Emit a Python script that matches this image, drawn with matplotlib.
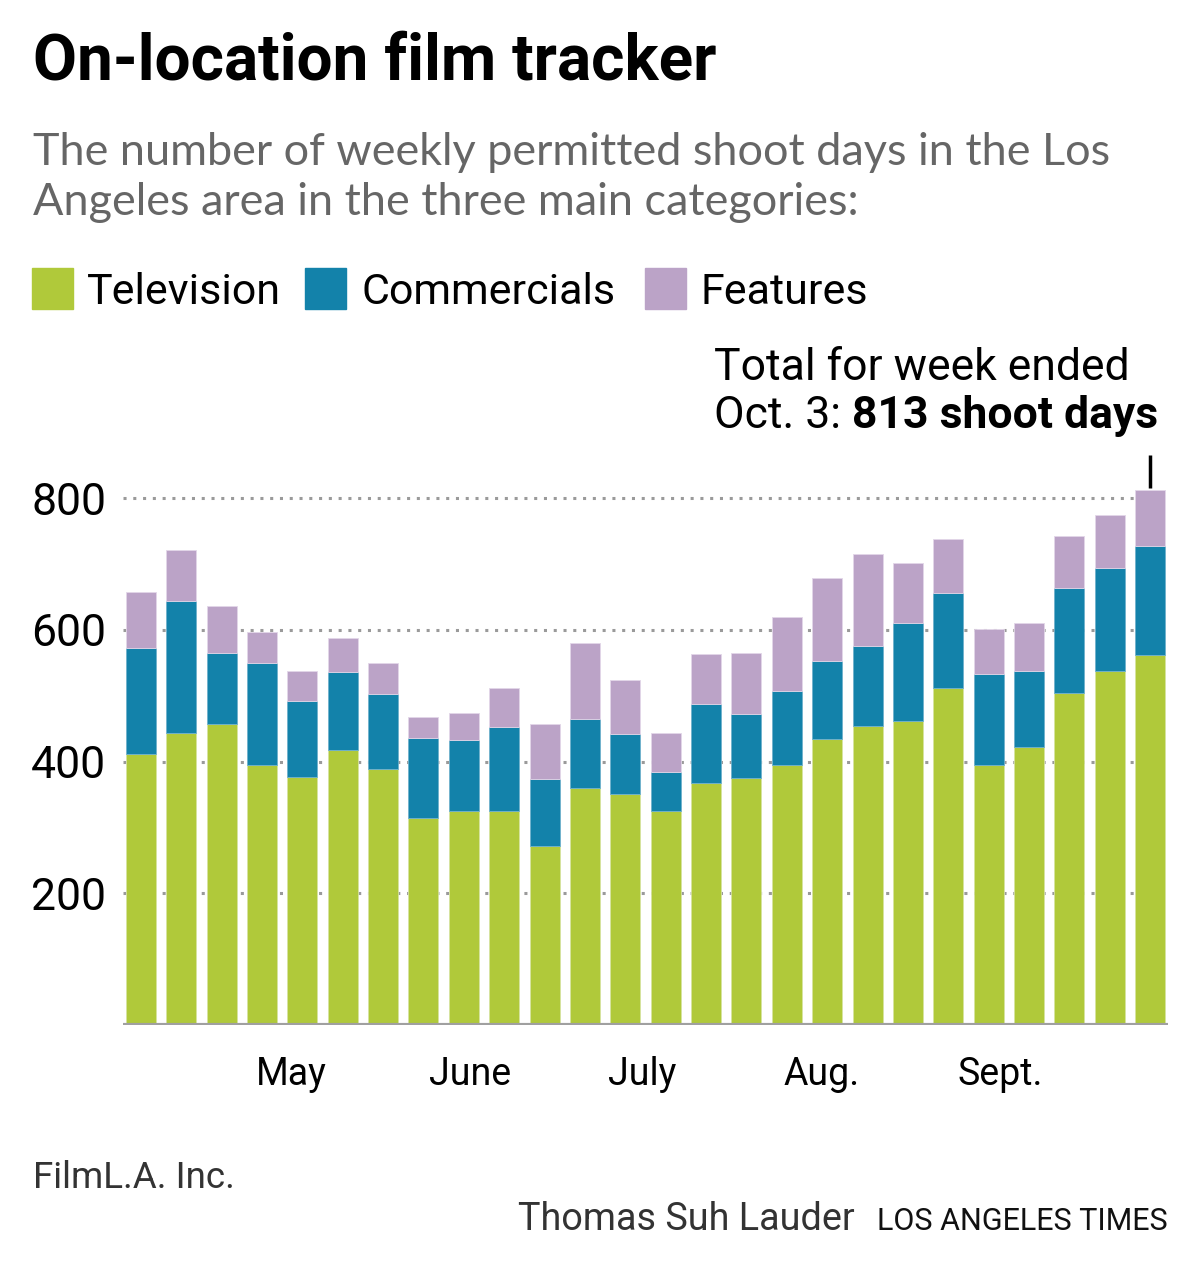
import numpy as np
import pandas as pd
import matplotlib
matplotlib.use('Agg')
import matplotlib.pyplot as plt

# Weekly permitted shoot days, week ended Apr. 11 through Oct. 3
week_ended = pd.date_range(end='2015-10-03', periods=26, freq='7D')
television = [411, 444, 457, 395, 377, 418, 389, 315, 325, 325, 272, 360, 351,
              325, 368, 375, 395, 434, 454, 461, 511, 395, 422, 504, 538, 561]
commercials = [161, 200, 108, 154, 115, 118, 113, 121, 108, 127, 101, 105, 91,
               59, 120, 97, 112, 118, 121, 149, 145, 138, 115, 160, 156, 167]
features = [85, 77, 71, 48, 45, 51, 47, 32, 41, 59, 84, 115, 82,
            59, 76, 93, 113, 127, 140, 92, 82, 68, 74, 79, 81, 85]
month_labels = ['May', 'June', 'July', 'Aug.', 'Sept.']
month_starts = pd.to_datetime(['2015-05-01', '2015-06-01', '2015-07-01',
                               '2015-08-01', '2015-09-01'])
y_ticks = [200, 400, 600, 800]

c_tv = '#b0c93a'
c_com = '#1382aa'
c_feat = '#bba3c7'

W, H = 1200, 1276
sans = ['Roboto', 'DejaVu Sans']
plt.rcParams['font.family'] = sans


def fx(px):
    return px / W


def fy(py):
    return 1 - py / H


fig = plt.figure(figsize=(W / 100, H / 100), dpi=100)
ax = fig.add_axes([fx(123), fy(1025), fx(1168) - fx(123), fy(450) - fy(1025)])

# bars drawn at the start of each week
x = week_ended - pd.Timedelta(days=6)
tv = np.array(television)
com = np.array(commercials)
feat = np.array(features)
width = 5.2
ax.bar(x, tv, width=width, color=c_tv, edgecolor='#d6e3a0', linewidth=0.6, zorder=3)
ax.bar(x, com, bottom=tv, width=width, color=c_com, edgecolor='#6fb1cc', linewidth=0.6, zorder=3)
ax.bar(x, feat, bottom=tv + com, width=width, color=c_feat, edgecolor='#e2d6e8', linewidth=0.6, zorder=3)

ax.set_xlim(x[0] - pd.Timedelta(days=3.1), x[-1] + pd.Timedelta(days=3.1))
ax.set_ylim(0, 873)

for v in y_ticks:
    ax.axhline(v, color='#9a9a9a', linestyle=(0, (1, 2.2)), linewidth=2.2, zorder=1)
ax.axhline(0, color='#a0a0a0', linewidth=3, zorder=4)

for s in ax.spines.values():
    s.set_visible(False)
ax.set_yticks(y_ticks)
ax.set_yticklabels([str(v) for v in y_ticks], fontsize=32)
ax.tick_params(axis='y', length=0, pad=12)
ax.set_xticks(month_starts)
ax.set_xticklabels(month_labels, fontsize=27)
ax.tick_params(axis='x', length=0, pad=22)

# annotation for the last week
total = tv[-1] + com[-1] + feat[-1]
ax.plot([x[-1], x[-1]], [total + 2, total + 53], color='black', linewidth=2.5,
        solid_capstyle='butt', clip_on=False)
fig.text(fx(714), fy(380), 'Total for week ended', fontsize=32, va='baseline')
t1 = fig.text(fx(714), fy(428), 'Oct. 3: ', fontsize=32, va='baseline')
fig.canvas.draw()
bb = t1.get_window_extent()
fig.text(bb.x1 / W, fy(428), f'{total} shoot days', fontsize=32,
         fontweight='bold', va='baseline')

# title and subtitle
fig.text(fx(33), fy(80), 'On-location film tracker', fontsize=46,
         fontweight='bold', va='baseline')
fig.text(fx(33), fy(165), 'The number of weekly permitted shoot days in the Los',
         fontsize=32.4, color='#666666', family=['Lato', 'DejaVu Sans'], va='baseline')
fig.text(fx(33), fy(215), 'Angeles area in the three main categories:',
         fontsize=32.4, color='#666666', family=['Lato', 'DejaVu Sans'], va='baseline')

# legend
legend_items = [('Television', c_tv, 32, 87), ('Commercials', c_com, 305, 361),
                ('Features', c_feat, 645, 700)]
for label, col, sx, tx in legend_items:
    fig.patches.append(plt.Rectangle((fx(sx), fy(309)), fx(41), 41 / H,
                                     transform=fig.transFigure, color=col))
    fig.text(fx(tx), fy(304), label, fontsize=31, va='baseline')

# footer
fig.text(fx(33), fy(1188), 'FilmL.A. Inc.', fontsize=26.5, color='#333333', va='baseline')
fig.text(fx(855), fy(1230), 'Thomas Suh Lauder', fontsize=27.2, color='#333333',
         ha='right', va='baseline')
fig.text(fx(1168), fy(1230), 'LOS ANGELES TIMES', fontsize=22, color='#111111',
         ha='right', va='baseline')

fig.savefig('out.png', dpi=100)
